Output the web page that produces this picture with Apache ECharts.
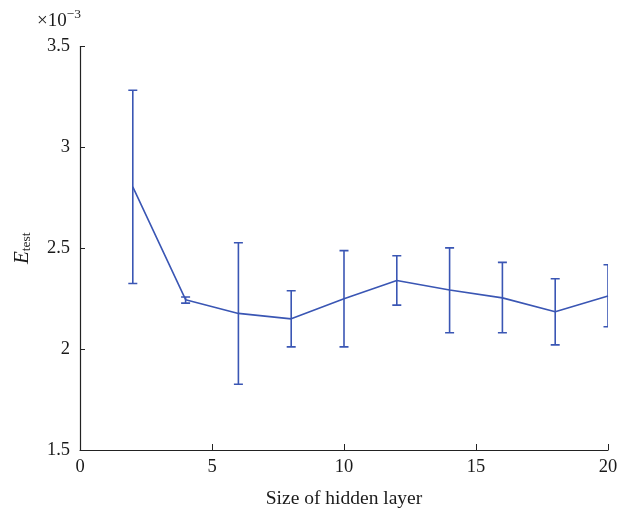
<!DOCTYPE html>
<html>
<head>
<meta charset="utf-8">
<script src="https://cdn.jsdelivr.net/npm/echarts@6/dist/echarts.min.js"></script>
<style>
  html, body { margin: 0; padding: 0; background: #fff; }
  #chart { width: 618px; height: 514px; }
</style>
</head>
<body>
<div id="chart"></div>
<script>
// Hidden layer sizes and test error statistics (values in units of 1e-3)
const hiddenSizes = [2, 4, 6, 8, 10, 12, 14, 16, 18, 20];
const meanError   = [2.804, 2.245, 2.177, 2.150, 2.250, 2.340, 2.293, 2.254, 2.185, 2.263];
const upperError  = [3.283, 2.258, 2.527, 2.289, 2.488, 2.463, 2.502, 2.430, 2.349, 2.418];
const lowerError  = [2.325, 2.228, 1.826, 2.011, 2.011, 2.218, 2.081, 2.081, 2.021, 2.111];
const xTicks = [0, 5, 10, 15, 20];
const yTicks = [1.5, 2, 2.5, 3, 3.5];

const lineColor = '#3a56b4';
const serif = '"Liberation Serif", "DejaVu Serif", serif';

const chart = echarts.init(document.getElementById('chart'), null, { renderer: 'canvas' });

const errorData = hiddenSizes.map((s, i) => [s, lowerError[i], upperError[i]]);

chart.setOption({
  animation: false,
  backgroundColor: '#ffffff',
  grid: { left: 80, right: 10, top: 46.5, bottom: 64, containLabel: false, outerBoundsMode: 'none' },
  xAxis: {
    type: 'value',
    min: xTicks[0],
    max: xTicks[xTicks.length - 1],
    interval: 5,
    name: 'Size of hidden layer',
    nameLocation: 'middle',
    nameGap: 39,
    nameTextStyle: { fontFamily: serif, fontSize: 19.5, color: '#1a1a1a' },
    axisLine: { show: true, onZero: false, lineStyle: { color: '#222', width: 1.2 } },
    axisTick: { show: true, inside: true, length: 6, lineStyle: { color: '#222', width: 1 } },
    axisLabel: { fontFamily: serif, fontSize: 18.5, color: '#1a1a1a', margin: 8 },
    splitLine: { show: false }
  },
  yAxis: {
    type: 'value',
    min: yTicks[0],
    max: yTicks[yTicks.length - 1],
    interval: 0.5,
    name: '{e|E}{s|test}',
    nameLocation: 'middle',
    nameRotate: 90,
    nameGap: 47,
    nameTextStyle: {
      rich: {
        e: { fontFamily: serif, fontStyle: 'italic', fontSize: 21, color: '#1a1a1a', lineHeight: 24, verticalAlign: 'bottom' },
        s: { fontFamily: serif, fontSize: 13.5, color: '#1a1a1a', lineHeight: 24, verticalAlign: 'bottom', padding: [9, 0, 0, 0] }
      }
    },
    axisLine: { show: true, onZero: false, lineStyle: { color: '#222', width: 1.2 } },
    axisTick: { show: true, inside: true, length: 5, lineStyle: { color: '#222', width: 1 } },
    axisLabel: { fontFamily: serif, fontSize: 18.5, color: '#1a1a1a', margin: 10 },
    splitLine: { show: false }
  },
  graphic: [{
    type: 'text',
    left: 37,
    top: 7,
    style: {
      text: '{b|×10}{p|−3}',
      rich: {
        b: { fontFamily: serif, fontSize: 19, fill: '#1a1a1a', lineHeight: 24, verticalAlign: 'bottom' },
        p: { fontFamily: serif, fontSize: 13.5, fill: '#1a1a1a', lineHeight: 24, verticalAlign: 'top' }
      }
    }
  }],
  series: [
    {
      type: 'line',
      data: hiddenSizes.map((s, i) => [s, meanError[i]]),
      symbol: 'none',
      lineStyle: { color: lineColor, width: 1.6 },
      z: 3
    },
    {
      type: 'custom',
      clip: true,
      data: errorData,
      encode: { x: 0, y: [1, 2] },
      renderItem: function (params, api) {
        const x = api.value(0);
        const lo = api.coord([x, api.value(1)]);
        const hi = api.coord([x, api.value(2)]);
        const half = 4.5;
        const style = { stroke: lineColor, lineWidth: 1.6 };
        return {
          type: 'group',
          children: [
            { type: 'line', shape: { x1: lo[0], y1: lo[1], x2: hi[0], y2: hi[1] }, style: style },
            { type: 'line', shape: { x1: hi[0] - half, y1: hi[1], x2: hi[0] + half, y2: hi[1] }, style: style },
            { type: 'line', shape: { x1: lo[0] - half, y1: lo[1], x2: lo[0] + half, y2: lo[1] }, style: style }
          ]
        };
      },
      z: 3
    }
  ]
});
</script>
</body>
</html>
